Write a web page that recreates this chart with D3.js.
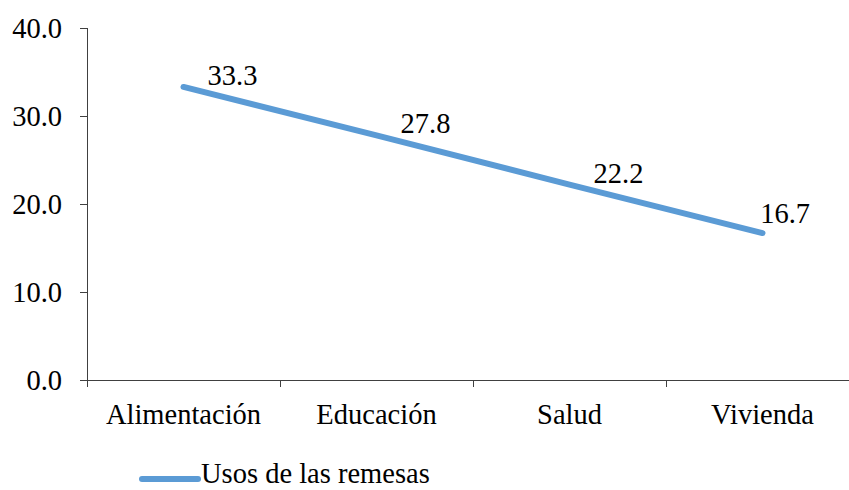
<!DOCTYPE html>
<html>
<head>
    <meta charset="utf-8">
    <title></title>
    <style>
        body {
            margin: 0;
            background: #fff;
        }

        svg text {
            fill: #000;
            font-family: "Times New Roman", "Liberation Serif", Times, "DejaVu Serif", serif;
            font-size: 28.5px;
        }

        .axis path,
        .axis line {
            stroke: #404040;
            stroke-width: 1px;
            shape-rendering: crispEdges;
        }
    </style>
</head>

<body>
    <script src="https://cdn.jsdelivr.net/npm/d3@7"></script>
    <script>

        // data
        var categories = ["Alimentación", "Educación", "Salud", "Vivienda"];
        var values = [33.3, 27.8, 22.2, 16.7];
        var yTicks = [0, 10, 20, 30, 40];
        var seriesName = "Usos de las remesas";

        var width = 849,
            height = 490;

        var margin = { left: 87, top: 28, bottom: 380 };
        var lineColor = "#5b9bd5";
        var serif = '"Times New Roman", "Liberation Serif", Times, "DejaVu Serif", serif';

        var svg = d3.select("body").append("svg")
            .attr("width", width)
            .attr("height", height)
            .attr("font-family", serif)
            .attr("font-size", 28.5);

        var x = d3.scaleBand()
            .domain(categories)
            .range([margin.left, margin.left + 4 * 193]);

        var y = d3.scaleLinear()
            .domain([0, 40])
            .range([margin.bottom, margin.top]);

        // y axis
        var yAxis = svg.append("g")
            .attr("class", "axis")
            .attr("transform", "translate(" + margin.left + ",0)")
            .call(d3.axisLeft(y)
                .tickValues(yTicks)
                .tickSize(7)
                .tickPadding(18)
                .tickFormat(d3.format(".1f")))
            .attr("font-family", serif)
            .attr("font-size", 28.5);
        yAxis.select(".domain").attr("d", "M0," + y(40) + "V" + y(0));
        yAxis.selectAll("text").attr("fill", "#000");

        // x axis
        var xAxis = svg.append("g")
            .attr("class", "axis")
            .attr("transform", "translate(0," + margin.bottom + ")");
        xAxis.append("line")
            .attr("x1", x.range()[0])
            .attr("x2", x.range()[1]);
        xAxis.selectAll(".tick")
            .data(categories)
            .enter().append("line")
            .attr("class", "tick")
            .attr("x1", function (d) { return x(d); })
            .attr("x2", function (d) { return x(d); })
            .attr("y1", 0)
            .attr("y2", 7);
        xAxis.selectAll(".lbl")
            .data(categories)
            .enter().append("text")
            .attr("class", "lbl")
            .attr("text-anchor", "middle")
            .attr("x", function (d) { return x(d) + x.bandwidth() / 2; })
            .attr("y", 44)
            .text(function (d) { return d; });

        // the line
        var pts = categories.map(function (c, i) {
            return { cat: c, value: values[i], px: x(c) + x.bandwidth() / 2, py: y(values[i]) };
        });

        var line = d3.line()
            .x(function (d) { return d.px; })
            .y(function (d) { return d.py; });

        svg.append("path")
            .datum(pts)
            .attr("d", line)
            .attr("fill", "none")
            .attr("stroke", lineColor)
            .attr("stroke-width", 6)
            .attr("stroke-linecap", "round")
            .attr("stroke-linejoin", "round");

        // data labels, right of the point; pushed back in at the right edge
        var plotRight = 810;
        svg.selectAll(".val")
            .data(pts)
            .enter().append("text")
            .attr("class", "val")
            .text(function (d) { return d.value.toFixed(1); })
            .each(function (d) {
                var w = this.getComputedTextLength();
                var lx = d.px + 24, ly = d.py - 2;
                if (lx + w > plotRight) {
                    lx = plotRight - w;
                    ly = d.py - 10;
                }
                d3.select(this).attr("x", lx).attr("y", ly);
            });

        // legend
        var legend = svg.append("g")
            .attr("transform", "translate(142,479)");
        legend.append("line")
            .attr("x1", 0)
            .attr("x2", 56)
            .attr("stroke", lineColor)
            .attr("stroke-width", 6)
            .attr("stroke-linecap", "round");
        legend.append("text")
            .attr("x", 59)
            .attr("y", 4)
            .text(seriesName);

    </script>
</body>

</html>
